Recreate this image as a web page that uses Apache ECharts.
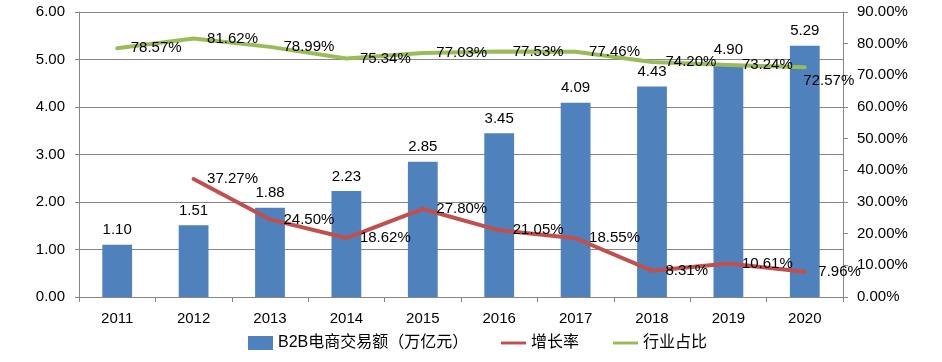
<!DOCTYPE html>
<html>
<head>
<meta charset="utf-8">
<script src="https://cdn.jsdelivr.net/npm/echarts@6/dist/echarts.min.js"></script>
<style>html,body{margin:0;padding:0;background:#fff}#c{width:942px;height:362px}</style>
</head>
<body>
<div id="c"></div>
<script>
var categories = ['2011','2012','2013','2014','2015','2016','2017','2018','2019','2020'];
var b2bVolume = [1.10, 1.51, 1.88, 2.23, 2.85, 3.45, 4.09, 4.43, 4.90, 5.29];
var growthRate = [null, 37.27, 24.50, 18.62, 27.80, 21.05, 18.55, 8.31, 10.61, 7.96];
var industryShare = [78.57, 81.62, 78.99, 75.34, 77.03, 77.53, 77.46, 74.20, 73.24, 72.57];
var seriesNames = ['B2B电商交易额（万亿元）', '增长率', '行业占比'];

var FONT = "'Liberation Sans', 'Noto Sans CJK SC', sans-serif";
var FS = 15;
var chart = echarts.init(document.getElementById('c'), null, {renderer: 'canvas'});

var shareData = industryShare.map(function (v, i) {
  if (i === industryShare.length - 1) {
    return {value: v, label: {position: 'bottom', distance: 6, offset: [24, 0]}};
  }
  return v;
});

var lineIcon = 'path://M0,0 L34,0 L34,4 L0,4 Z';
var legendText = {fontSize: 16, color: '#000', fontFamily: FONT};
function mkLegend(name, left, icon, w, h) {
  return {left: left, top: 335, padding: 0, textStyle: legendText,
    data: [{name: name, icon: icon, itemWidth: w, itemHeight: h}]};
}

chart.setOption({
  animation: false,
  textStyle: {fontFamily: FONT, color: '#000'},
  grid: {left: 79, right: 99, top: 12, bottom: 65, containLabel: false},
  legend: [
    mkLegend(seriesNames[0], 248, 'rect', 32, 10),
    mkLegend(seriesNames[1], 501, lineIcon, 35, 4),
    mkLegend(seriesNames[2], 613, lineIcon, 35, 4)
  ],
  xAxis: {
    type: 'category',
    data: categories,
    boundaryGap: true,
    axisLine: {lineStyle: {color: '#868686', width: 1}},
    axisTick: {show: true, length: 5, lineStyle: {color: '#868686'}},
    axisLabel: {color: '#000', fontSize: FS, margin: 14, fontFamily: FONT}
  },
  yAxis: [
    {
      type: 'value', min: 0, max: 6, interval: 1,
      axisLine: {show: true, lineStyle: {color: '#868686'}},
      axisTick: {show: true, length: 4, lineStyle: {color: '#868686'}},
      splitLine: {show: true, lineStyle: {color: '#868686', width: 1}},
      axisLabel: {color: '#000', fontSize: FS, margin: 14, fontFamily: FONT,
        formatter: function (v) { return v.toFixed(2); }}
    },
    {
      type: 'value', min: 0, max: 90, interval: 10, position: 'right',
      axisLine: {show: true, lineStyle: {color: '#868686'}},
      axisTick: {show: true, length: 5, lineStyle: {color: '#868686'}},
      splitLine: {show: false},
      axisLabel: {color: '#000', fontSize: FS, margin: 14, fontFamily: FONT,
        formatter: function (v) { return v.toFixed(2) + '%'; }}
    }
  ],
  series: [
    {
      name: seriesNames[0], type: 'bar', yAxisIndex: 0,
      data: b2bVolume, barWidth: '39%',
      itemStyle: {color: '#4F81BD'},
      label: {show: true, position: 'top', distance: 7, color: '#000', fontSize: FS, fontFamily: FONT,
        formatter: function (p) { return p.value.toFixed(2); }},
      z: 1
    },
    {
      name: seriesNames[1], type: 'line', yAxisIndex: 1,
      data: growthRate, symbol: 'circle', symbolSize: 1, showSymbol: true, connectNulls: false,
      lineStyle: {color: '#C0504D', width: 4, join: 'round', cap: 'round'},
      itemStyle: {color: '#C0504D'},
      label: {show: true, position: 'right', distance: 13, color: '#000', fontSize: FS, fontFamily: FONT,
        formatter: function (p) { return p.value == null ? '' : p.value.toFixed(2) + '%'; }},
      z: 3
    },
    {
      name: seriesNames[2], type: 'line', yAxisIndex: 1,
      data: shareData, symbol: 'circle', symbolSize: 1, showSymbol: true,
      lineStyle: {color: '#9BBB59', width: 4, join: 'round', cap: 'round'},
      itemStyle: {color: '#9BBB59'},
      label: {show: true, position: 'right', distance: 13, color: '#000', fontSize: FS, fontFamily: FONT,
        formatter: function (p) { return p.value.toFixed(2) + '%'; }},
      z: 3
    }
  ]
});
</script>
</body>
</html>
